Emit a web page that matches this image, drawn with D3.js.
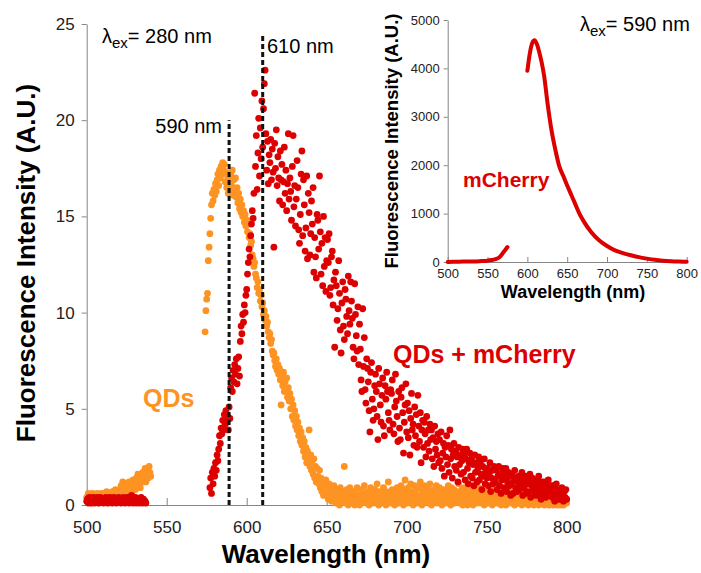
<!DOCTYPE html>
<meta charset="utf-8">
<style>
body { margin: 0; background: #fff; }
svg { font-family: "Liberation Sans", Arial, sans-serif; }
.axis path, .axis line { stroke: #858585; stroke-width: 1; }
.axis text { fill: #222; }
.vline { stroke: #111; stroke-width: 3; stroke-dasharray: 5,3; }
</style>
<body>
<script src="https://d3js.org/d3.v7.min.js"></script>
<script>
var step = 0.5;

// QDs alone, lambda_ex = 280 nm
var qdsLowStart = 500;
var qdsLow = [
  0.4,0.2,0.6,0.3,0.5,0.1,0.4,0.6,0.2,0.5,
  0.3,0.5,0.2,0.6,0.4,0.1,0.5,0.3,0.6,0.2,
  0.5,0.3,0.6,0.2,0.4,0.7,0.3,0.5,0.1,0.6,
  0.4,0.2,0.7,0.5,0.3,0.6,0.8,0.4,0.5,0.7,
  0.5,0.8,0.4,1.0,0.6,1.2,0.5,0.9,1.1,0.7,
  0.6,1.0,0.8,1.2,0.5,0.9,1.1,0.7,1.3,0.9,
  1.2,0.8,1.4,1.0,1.6,1.1,1.3,0.9,1.5,1.2,
  1.7,1.3,1.5,1.9,1.2,1.6,1.8,1.4,2.0,1.7,
  1.5];
var qdsStart = 574;
var qds = [
  9.0,10.1,10.7,11.0,12.7,13.4,14.1,14.9,15.6,16.2,
  15.8,16.4,16.1,16.7,16.3,16.9,17.2,16.6,17.4,17.0,
  17.6,17.2,17.8,17.4,17.7,16.8,17.3,16.5,17.1,16.2,
  16.9,16.4,17.2,16.6,17.4,16.1,16.9,16.3,17.0,16.0,
  16.5,15.7,16.2,15.4,15.9,15.2,15.6,15.0,15.3,14.7,
  15.1,14.5,14.8,14.2,14.6,13.9,14.1,13.5,13.7,13.0,
  12.8,12.4,12.6,12.0,11.8,11.3,11.6,11.0,11.2,10.6,
  10.9,10.3,10.5,9.9,10.1,9.6,9.8,9.3,9.5,9.0,
  8.7,8.9,8.4,8.6,8.0,7.8,7.9,7.5,7.2,7.6,
  7.0,7.3,6.8,7.1,6.5,5.2,6.7,6.2,6.9,5.9,
  6.4,6.0,6.6,5.6,6.1,5.4,5.8,5.0,5.5,4.6,
  5.2,4.4,4.9,4.1,4.6,3.9,4.3,3.6,4.0,3.3,
  3.8,3.1,3.5,2.8,3.3,2.5,3.0,2.2,2.8,2.4,
  3.9,2.0,
  2.6,1.8,2.3,1.6,2.4,1.4,2.0,1.2,1.9,1.5,
  1.1,1.8,0.9,1.4,0.7,1.3,0.5,1.0,0.8,1.3,
  0.6,0.9,0.3,1.1,0.5,0.8,0.2,0.7,0.4,1.0,
  0.2,
  0.5,0.1,0.8,0.3,0.6,0.0,0.9,0.4,0.2,0.7,
  0.3,2.0,0.5,0.1,0.8,0.4,0.0,0.6,0.9,0.2,
  0.5,0.1,0.7,0.3,0.0,0.6,0.4,0.9,0.2,0.5,
  0.0,0.4,0.8,0.1,0.6,0.3,1.0,0.2,0.5,0.1,
  0.7,0.3,0.0,0.5,0.9,0.2,0.6,0.1,0.4,0.8,
  0.2,0.5,1.1,0.3,0.0,0.7,0.4,0.1,0.6,0.3,
  0.9,0.2,0.5,0.0,0.7,0.3,1.2,0.4,0.1,0.6,
  0.3,0.8,0.1,0.5,0.0,0.6,0.2,0.9,0.4,0.1,
  0.7,0.3,1.0,0.2,0.5,0.0,0.8,1.3,0.4,0.6,
  0.1,0.9,0.5,0.2,1.1,0.4,0.7,0.0,0.6,1.0,
  0.3,0.8,0.1,0.5,0.9,0.2,1.2,0.4,0.0,0.7,
  0.5,1.0,0.2,0.6,0.3,0.9,0.1,0.7,1.1,0.4,
  0.0,0.6,0.3,0.8,0.2,0.5,1.0,0.1,0.7,0.4,
  0.9,0.2,0.6,0.0,0.4,0.8,0.3,0.5,0.1,0.7,
  0.4,1.0,0.2,0.6,0.0,0.9,0.3,0.5,0.8,0.1,
  0.6,0.2,0.7,0.4,1.1,0.1,0.5,0.3,0.8,0.0,
  0.5,0.9,0.2,0.6,0.3,0.0,0.7,0.4,1.0,0.1,
  0.4,0.7,0.0,0.5,0.2,0.8,0.3,0.6,0.1,0.9,
  0.2,0.5,0.8,0.1,0.6,0.3,0.0,0.7,0.4,0.5,
  0.6,0.1,0.4,0.9,0.2,0.5,0.0,0.7,0.3,0.8,
  0.3,0.6,0.1,0.5,0.8,0.2,0.4,0.0,0.7,0.3,
  0.5,0.2,0.7,0.0,0.4,0.6,0.1,0.8,0.3,0.5,
  0.1,0.6,0.3,0.5,0.0,0.4,0.7,0.2,0.5,0.1,
  0.4,0.2,0.6,0.0,0.3,0.5,0.1,0.4,0.2,0.6,
  0.3,0.0,0.5,0.2,0.4,0.1,0.6,0.3,0.0,0.4,
  0.2,0.5,0.1,0.3,0.0,0.4,0.2,0.5,0.1,0.3,
  0.4,0.0,0.3,0.2,0.5,0.1,0.3,0.0,0.4,0.2,
  0.1,0.3,0.0,0.4,0.2,0.1,0.3,0.0,0.2,0.4,
  0.2,0.0,0.3,0.1,0.2,0.0,0.3,0.1,0.2,0.1];

// QDs + mCherry
var mixLowStart = 500;
var mixLow = [
  0.2,0.3,0.1,0.4,0.2,0.3,0.1,0.3,0.4,0.2,
  0.1,0.3,0.2,0.4,0.3,0.1,0.2,0.4,0.2,0.3,
  0.3,0.1,0.2,0.3,0.4,0.2,0.1,0.3,0.2,0.4,
  0.2,0.3,0.1,0.2,0.4,0.3,0.2,0.1,0.3,0.2,
  0.4,0.2,0.3,0.1,0.3,0.2,0.4,0.2,0.1,0.3,
  0.2,0.4,0.3,0.1,0.2,0.3,0.5,0.2,0.1,0.3,
  0.2,0.4,0.1,0.3,0.2,0.3,0.1,0.2,0.4,0.2,
  0.1,0.3,0.2,0.2,0.1];
var mixStart = 577;
var mix = [
  0.9,1.4,0.6,1.7,1.1,1.9,1.5,2.2,1.8,2.6,
  2.3,2.9,3.6,3.2,4.0,3.7,4.4,3.9,4.7,4.2,
  4.9,4.3,4.6,3.9,5.1,4.5,6.1,6.6,5.9,7.0,
  6.4,7.3,6.8,7.6,6.3,7.1,7.7,6.7,8.5,9.3,
  8.9,9.9,9.5,10.4,10.0,10.9,11.2,12.0,12.6,13.3,
  12.9,14.0,14.6,15.3,14.9,16.2,21.4,17.6,19.2,16.4,
  18.3,20.1,17.1,19.6,18.0,21.0,18.6,20.6,21.9,22.6,
  19.3,17.4,18.9,16.7,18.2,17.8,19.0,16.9,18.5,17.3,
  13.4,18.8,17.5,19.5,16.6,18.1,17.0,15.8,18.4,16.9,
  17.7,15.6,16.8,18.6,16.2,17.4,15.3,16.7,19.3,15.9,
  17.0,16.3,14.8,17.6,19.2,15.5,16.6,14.5,15.9,
  17.9,16.5,14.3,13.6,15.1,17.2,18.4,14.0,
  16.9,15.6,13.2,14.4,17.1,12.8,16.2,15.2,13.0,14.1,
  15.8,14.6,16.5,12.1,13.9,12.9,11.8,15.1,14.8,13.3,
  17.1,14.2,12.0,13.6,11.4,15.0,12.4,13.9,11.1,12.7,
  13.8,12.6,14.1,10.9,11.3,12.9,13.2,10.4,11.7,8.2,
  12.1,11.4,9.6,10.2,12.7,11.0,9.1,7.9,10.5,11.6,
  9.3,8.6,11.2,10.7,9.8,8.9,11.9,10.1,9.4,11.6,
  10.6,9.7,8.2,7.6,11.5,9.9,8.8,8.0,10.3,7.3,
  9.4,8.1,6.5,5.9,10.2,7.2,8.7,6.0,5.3,7.6,
  7.1,6.4,4.9,3.8,6.9,7.4,5.5,4.4,5.0,6.2,
  6.8,5.9,4.6,3.4,7.1,6.3,5.2,4.3,5.7,6.6,
  4.1,3.6,6.2,5.5,6.9,5.9,4.8,4.4,3.9,6.0,
  5.8,6.5,4.2,3.7,5.1,6.8,5.4,4.6,3.3,5.9,
  4.0,3.4,5.6,6.1,4.8,2.7,4.3,5.2,6.3,3.8,
  5.3,3.5,4.9,2.6,4.5,5.8,3.9,4.2,3.1,5.1,
  3.6,4.7,3.0,5.7,4.1,3.3,4.8,2.2,3.9,4.4,
  3.0,4.3,3.7,2.5,4.6,3.2,3.9,2.8,4.2,3.4,
  3.9,2.4,3.5,2.0,4.1,2.9,3.3,2.6,3.7,2.2,
  3.4,2.3,3.8,1.9,2.7,3.2,1.5,3.0,2.5,3.6,
  2.1,3.1,1.7,3.9,2.4,2.9,1.4,2.6,3.2,2.0,
  2.8,1.8,2.5,1.2,3.0,2.1,2.6,1.6,2.3,2.9,
  1.7,2.6,1.3,2.4,2.9,1.9,1.1,2.2,2.7,1.5,
  2.4,1.4,2.1,1.0,2.6,1.7,2.2,1.2,1.9,2.5,
  1.3,2.2,1.6,0.8,2.0,1.5,2.4,1.1,1.8,1.4,
  1.9,1.0,1.6,2.2,0.7,1.4,1.8,1.1,2.0,1.3,
  1.2,1.8,0.8,1.5,2.0,1.0,1.6,0.6,1.3,1.9,
  1.6,0.9,1.4,1.9,0.7,1.2,1.7,1.0,1.5,0.5,
  1.1,1.6,0.6,1.3,1.8,0.9,1.4,0.7,1.2,1.5,
  0.8,1.4,1.0,1.7,0.5,1.2,0.9,1.5,0.6,1.1,
  1.3,0.7,1.1,1.6,0.4,1.0,1.4,0.8,1.2,0.6,
  1.1,0.5,1.3,0.8,1.5,0.6,1.0,0.3,1.2,0.9,
  0.6,1.2,0.9,0.4,1.1,0.7,1.3,0.5,0.8,1.0,
  0.9,0.4,1.0,0.6,0.2,0.8,1.1,0.5,0.7,0.3,
  0.5,0.8,0.3,0.9,0.6,0.2,0.7,0.4,0.8,0.3];

var xTicks = [500, 550, 600, 650, 700, 750, 800];
var yTicks = [0, 5, 10, 15, 20, 25];
// dashed markers: wavelength, top of line
var markNm = [589, 610];
var markTop = [20, 24.4];

// inset: mCherry alone, lambda_ex = 590 nm
var cherryWaveA = [500, 510, 520, 530, 540, 550, 555, 560, 565, 570, 575];
var cherryValA  = [0, 5, 8, 12, 18, 28, 40, 60, 100, 200, 310];
var cherryWaveB = [600, 603, 606, 609, 612, 615, 618, 621, 625, 630, 635, 640, 645, 650, 655,
                   660, 665, 670, 680, 690, 700, 710, 720, 730, 740, 750, 760, 770, 780, 790, 800];
var cherryValB  = [3950, 4300, 4520, 4580, 4500, 4330, 4120, 3850, 3320, 2750, 2330, 1980, 1780, 1580, 1390,
                   1200, 1010, 860, 620, 450, 330, 240, 185, 140, 100, 70, 45, 28, 16, 9, 5];
var insetYTicks = [0, 1000, 2000, 3000, 4000, 5000];

var orange = "#fd9322", red = "#dc0000";

function toPoints(start, vals) {
  return vals.map(function(v, i) { return {nm: start + i * step, v: v}; });
}

var svg = d3.select("body").append("svg")
    .attr("width", 701)
    .attr("height", 573);

// ---- main chart ----
var x = d3.scaleLinear().domain([500, 800]).range([86.7, 566.7]);
var y = d3.scaleLinear().domain([0, 25]).range([505, 24]);

var gx = svg.append("g")
    .attr("class", "axis")
    .attr("transform", "translate(0," + y(0) + ")")
    .call(d3.axisBottom(x).tickValues(xTicks).tickSizeInner(-7).tickSizeOuter(0).tickPadding(16));
gx.selectAll("text").style("font-size", "17px");

var gy = svg.append("g")
    .attr("class", "axis")
    .attr("transform", "translate(" + x(500) + ",0)")
    .call(d3.axisLeft(y).tickValues(yTicks).tickSizeInner(5).tickSizeOuter(0).tickPadding(7));
gy.selectAll("text").style("font-size", "17px");

var qdsPts = toPoints(qdsLowStart, qdsLow).concat(toPoints(qdsStart, qds));
var mixPts = toPoints(mixLowStart, mixLow).concat(toPoints(mixStart, mix));

svg.append("g").selectAll("circle")
    .data(qdsPts)
  .enter().append("circle")
    .attr("r", 3.4)
    .attr("cx", function(d) { return x(d.nm); })
    .attr("cy", function(d) { return y(d.v); })
    .attr("fill", orange);

svg.append("g").selectAll("circle")
    .data(mixPts)
  .enter().append("circle")
    .attr("r", 3.4)
    .attr("cx", function(d) { return x(d.nm); })
    .attr("cy", function(d) { return y(d.v); })
    .attr("fill", red);

svg.selectAll(".vline")
    .data(markNm)
  .enter().append("line")
    .attr("class", "vline")
    .attr("x1", function(d) { return x(d); })
    .attr("x2", function(d) { return x(d); })
    .attr("y1", y(0))
    .attr("y2", function(d, i) { return y(markTop[i]); });

svg.append("text")
    .attr("x", 222).attr("y", 133)
    .attr("text-anchor", "end")
    .style("font-size", "20px")
    .text("590 nm");
svg.append("text")
    .attr("x", 267).attr("y", 53)
    .style("font-size", "20px")
    .text("610 nm");

var lam = svg.append("text")
    .attr("x", 102).attr("y", 43)
    .style("font-size", "20px");
lam.append("tspan").text("λ");
lam.append("tspan").attr("dy", 5).style("font-size", "15px").text("ex");
lam.append("tspan").attr("dy", -5).text("= 280 nm");

svg.append("text")
    .attr("x", 143).attr("y", 407)
    .style("font-size", "25px").style("font-weight", "bold")
    .attr("fill", orange)
    .text("QDs");
svg.append("text")
    .attr("x", 393).attr("y", 363)
    .style("font-size", "25px").style("font-weight", "bold")
    .attr("fill", red)
    .text("QDs + mCherry");

svg.append("text")
    .attr("x", 326).attr("y", 563)
    .attr("text-anchor", "middle")
    .style("font-size", "26px").style("font-weight", "bold")
    .text("Wavelength (nm)");
svg.append("text")
    .attr("transform", "translate(35,263) rotate(-90)")
    .attr("text-anchor", "middle")
    .style("font-size", "26px").style("font-weight", "bold")
    .text("Fluorescence Intensity (A.U.)");

// ---- inset ----
var xi = d3.scaleLinear().domain([500, 800]).range([447.7, 686.7]);
var yi = d3.scaleLinear().domain([0, 5000]).range([262, 20]);

var ix = svg.append("g")
    .attr("class", "axis")
    .attr("transform", "translate(0," + yi(0) + ")")
    .call(d3.axisBottom(xi).tickValues(xTicks).tickSizeInner(-5).tickSizeOuter(0).tickPadding(7));
ix.selectAll("text").style("font-size", "13px");

var iy = svg.append("g")
    .attr("class", "axis")
    .attr("transform", "translate(" + xi(500) + ",0)")
    .call(d3.axisLeft(yi).tickValues(insetYTicks).tickFormat(d3.format("d"))
      .tickSizeInner(4).tickSizeOuter(0).tickPadding(4));
iy.selectAll("text").style("font-size", "13px");

var cherryLine = d3.line()
    .x(function(d) { return xi(d[0]); })
    .y(function(d) { return yi(d[1]); })
    .curve(d3.curveMonotoneX);

[[cherryWaveA, cherryValA], [cherryWaveB, cherryValB]].forEach(function(s) {
  svg.append("path")
      .datum(d3.zip(s[0], s[1]))
      .attr("fill", "none")
      .attr("stroke", red)
      .attr("stroke-width", 4)
      .attr("stroke-linecap", "round")
      .attr("d", cherryLine);
});

var lam2 = svg.append("text")
    .attr("x", 580).attr("y", 31)
    .style("font-size", "20px");
lam2.append("tspan").text("λ");
lam2.append("tspan").attr("dy", 5).style("font-size", "15px").text("ex");
lam2.append("tspan").attr("dy", -5).text("= 590 nm");

svg.append("text")
    .attr("x", 463).attr("y", 187)
    .style("font-size", "21px").style("font-weight", "bold")
    .attr("fill", red)
    .text("mCherry");

svg.append("text")
    .attr("x", 573).attr("y", 298)
    .attr("text-anchor", "middle")
    .style("font-size", "18px").style("font-weight", "bold")
    .text("Wavelength (nm)");
svg.append("text")
    .attr("transform", "translate(398,141) rotate(-90)")
    .attr("text-anchor", "middle")
    .style("font-size", "18.5px").style("font-weight", "bold")
    .text("Fluorescence Intensity (A.U.)");
</script>
</body>
